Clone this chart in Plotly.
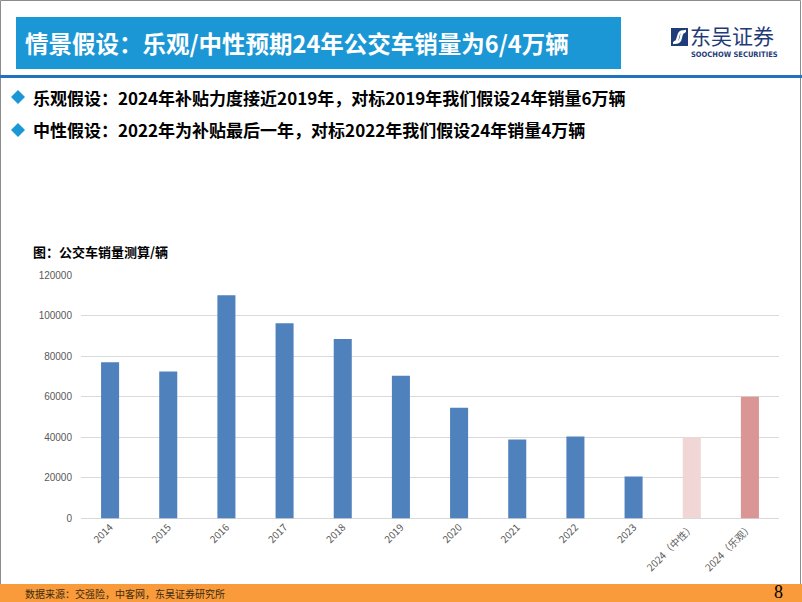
import plotly.graph_objects as go

# ---- data ----
categories = ["2014", "2015", "2016", "2017", "2018", "2019", "2020", "2021", "2022", "2023",
              "2024（中性）", "2024（乐观）"]
sales = [77000, 72500, 110000, 96200, 88400, 70400, 54600, 38900, 40400, 20700, 40000, 60000]
bar_colors = ["#4F81BD"] * 10 + ["#F0D6D5", "#D99694"]
y_ticks = [0, 20000, 40000, 60000, 80000, 100000, 120000]

W, H = 802, 602
def px(x): return x / W
def py(y): return 1 - y / H

fig = go.Figure(go.Bar(x=categories, y=sales, marker=dict(color=bar_colors, line=dict(width=0)),
                       width=0.31, hoverinfo="x+y"))

CJK = "Noto Sans CJK SC"

shapes = [
    # slide frame
    dict(type="rect", xref="paper", yref="paper", x0=px(0.5), x1=px(800.5), y0=py(601.5), y1=py(0.5),
         line=dict(color="#8C8C8C", width=1), fillcolor="rgba(0,0,0,0)", layer="below"),
    # title bar
    dict(type="rect", xref="paper", yref="paper", x0=px(16), x1=px(621), y0=py(69), y1=py(17),
         line=dict(width=0), fillcolor="#1C97D5", layer="below"),
    # header rule
    dict(type="rect", xref="paper", yref="paper", x0=px(0), x1=px(802), y0=py(78), y1=py(75),
         line=dict(width=0), fillcolor="#1F72BD", layer="below"),
    # footer bar
    dict(type="rect", xref="paper", yref="paper", x0=px(0), x1=px(802), y0=py(602), y1=py(584),
         line=dict(width=0), fillcolor="#F99B3A", layer="below"),
    # logo icon
    dict(type="rect", xref="paper", yref="paper", x0=px(671), x1=px(688), y0=py(46), y1=py(28),
         line=dict(width=0), fillcolor="#1F3C78", layer="above"),
    dict(type="path", xref="paper", yref="paper",
         path=f"M {px(674)},{py(42)} Q {px(680)},{py(44)} {px(681)},{py(37)} Q {px(682)},{py(31)} {px(686)},{py(31)}",
         line=dict(color="white", width=2.4), layer="above"),
    dict(type="path", xref="paper", yref="paper",
         path=f"M {px(685)},{py(32)} Q {px(679)},{py(30)} {px(678)},{py(37)} Q {px(677)},{py(43)} {px(673)},{py(43)}",
         line=dict(color="white", width=2.4), layer="above"),
]
# bullet diamonds
for cy in (97, 130):
    cx, r = 18, 7
    shapes.append(dict(type="path", xref="paper", yref="paper",
                       path=f"M {px(cx)},{py(cy-r)} L {px(cx+r)},{py(cy)} L {px(cx)},{py(cy+r)} L {px(cx-r)},{py(cy)} Z",
                       fillcolor="#1C97D5", line=dict(width=0)))

def ann(text, x, y, size, color="black", family=CJK, xanchor="left", bold=False):
    t = f"<b>{text}</b>" if bold else text
    return dict(text=t, x=px(x), y=py(y), xref="paper", yref="paper", xanchor=xanchor, yanchor="middle",
                showarrow=False, font=dict(size=size, color=color, family=family))

annotations = [
    ann("情景假设：乐观/中性预期24年公交车销量为6/4万辆", 23, 43, 23.5, color="white", bold=True),
    ann("乐观假设：2024年补贴力度接近2019年，对标2019年我们假设24年销量6万辆", 31, 97, 17, bold=True),
    ann("中性假设：2022年为补贴最后一年，对标2022年我们假设24年销量4万辆", 31, 130, 17, bold=True),
    ann("图：公交车销量测算/辆", 31, 251, 13, bold=True),
    ann("东吴证券", 688, 35, 21, color="#1F3C78"),
    ann("<b>SOOCHOW SECURITIES</b>", 689, 55, 7.5, color="#1F3C78", family="DejaVu Sans Condensed"),
    ann("数据来源：交强险，中客网，东吴证券研究所", 23, 593, 10, color="#3A2A10"),
    ann("8", 785, 592, 18, color="black", family="Liberation Serif", xanchor="right"),
]

fig.update_layout(
    width=W, height=H,
    margin=dict(l=0, r=0, t=0, b=0),
    paper_bgcolor="white", plot_bgcolor="white",
    showlegend=False,
    shapes=shapes, annotations=annotations,
    bargap=0.69,
    xaxis=dict(domain=[px(81), px(779)], automargin=False, tickangle=-45,
               tickfont=dict(size=10, color="#595959", family="Noto Sans CJK SC"),
               showline=False, ticks="", showgrid=False),
    yaxis=dict(domain=[py(518.5), py(275)], automargin=False, range=[0, 120000],
               tickvals=y_ticks, ticktext=[str(v) for v in y_ticks],
               tickfont=dict(size=10, color="#595959", family="Liberation Sans"),
               showgrid=True, gridcolor="#D9D9D9", gridwidth=1,
               zeroline=True, zerolinecolor="#D9D9D9", zerolinewidth=1,
               showline=False, ticks="", ticklen=0),
)
fig.update_yaxes(ticklabelstandoff=8)

fig.write_html("out.html", config={"displayModeBar": False},
               post_script="document.body.style.margin='0';document.body.style.overflow='hidden';")
